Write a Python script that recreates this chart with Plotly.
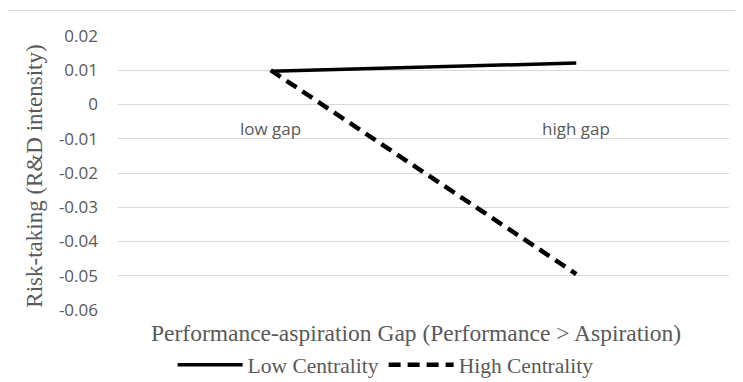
import plotly.graph_objects as go

categories = ["low gap", "high gap"]
low_centrality = [0.0097, 0.0121]
high_centrality = [0.0100, -0.0495]
y_ticks = [0.02, 0.01, 0, -0.01, -0.02, -0.03, -0.04, -0.05, -0.06]
y_tick_labels = ["0.02", "0.01", "0", "-0.01", "-0.02", "-0.03", "-0.04", "-0.05", "-0.06"]

x_idx = list(range(len(categories)))

fig = go.Figure()
fig.add_trace(go.Scatter(x=x_idx, y=low_centrality, mode="lines", name="Low Centrality",
                         line=dict(color="black", width=3.5)))
fig.add_trace(go.Scatter(x=x_idx, y=high_centrality, mode="lines", name="High Centrality",
                         line=dict(color="black", width=4.5, dash="12px,7px")))

for xi, lab in zip(x_idx, categories):
    fig.add_annotation(x=xi, y=0, xref="x", yref="y", text=lab, showarrow=False,
                       yanchor="middle", yshift=-24,
                       font=dict(family="Open Sans", size=17, color="#595959"))

fig.add_annotation(x=0.488, y=-0.084, xref="paper", yref="paper",
                   text="Performance-aspiration Gap (Performance &gt; Aspiration)",
                   showarrow=False, xanchor="center", yanchor="middle",
                   font=dict(family="Liberation Serif", size=23.5, color="#595959"))
fig.add_annotation(x=-0.136, y=0.49, xref="paper", yref="paper",
                   text="Risk-taking (R&amp;D intensity)", textangle=-90,
                   showarrow=False, xanchor="center", yanchor="middle",
                   font=dict(family="Liberation Serif", size=23, color="#595959"))

fig.add_shape(type="rect", xref="paper", yref="paper", x0=-0.1809, x1=1.2, y0=-0.4, y1=1.093,
              line=dict(color="#d9d9d9", width=1), fillcolor="rgba(0,0,0,0)", layer="below")

fig.update_layout(
    width=735, height=374,
    margin=dict(l=110, r=14, t=28, b=72, autoexpand=False),
    paper_bgcolor="white", plot_bgcolor="white",
    showlegend=True,
    legend=dict(orientation="h", x=0.438, xanchor="center", y=-0.2, yanchor="middle",
                font=dict(family="Liberation Serif", size=21.5, color="#595959"),
                bgcolor="rgba(0,0,0,0)", itemwidth=65, tracegroupgap=0),
    xaxis=dict(range=[-0.5, 1.5], showgrid=False, zeroline=False, showticklabels=False,
               showline=False, fixedrange=True),
    yaxis=dict(range=[-0.06, 0.02], tickvals=y_ticks, ticktext=y_tick_labels,
               showgrid=True, gridcolor="#d9d9d9", gridwidth=1,
               zeroline=True, zerolinecolor="#d9d9d9", zerolinewidth=1,
               showline=False, ticks="", ticklabelstandoff=19,
               tickfont=dict(family="Open Sans", size=17, color="#595959")),
)

fig.write_html("out.html")
